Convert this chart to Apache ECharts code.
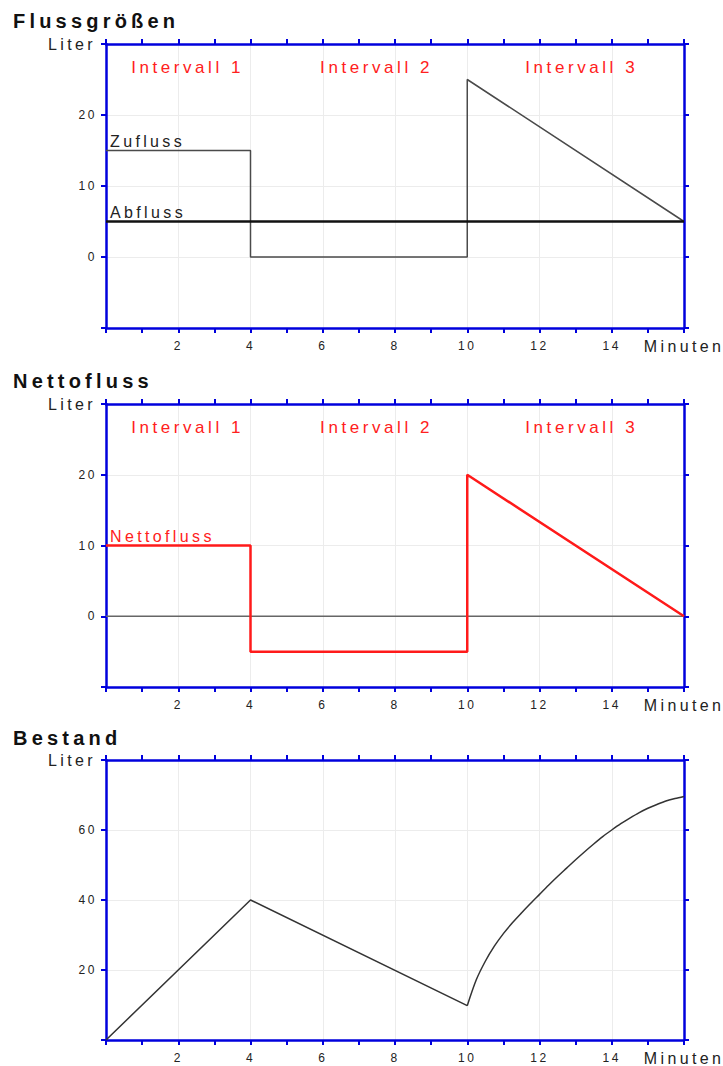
<!DOCTYPE html>
<html><head><meta charset="utf-8">
<script src="https://cdn.jsdelivr.net/npm/echarts@6/dist/echarts.min.js"></script>
<style>
html,body{margin:0;padding:0;background:#fff;}
#c{width:723px;height:1066px;}
#c text{letter-spacing:0.21em;}
</style></head><body><div id="c"></div>
<script>
// ---- data ----
const panelTitles = ['Flussgrößen', 'Nettofluss', 'Bestand'];
const yName = 'Liter';
const xName = 'Minuten';
const intervalNames = ['Intervall 1', 'Intervall 2', 'Intervall 3'];
const intervalMid = [2.26, 7.49, 13.17];
const intervalLevel = 26.7;

const zuflussT = [0, 4, 4, 10, 10, 16];
const zuflussV = [15, 15, 0, 0, 25, 5];
const abflussT = [0, 16];
const abflussV = [5, 5];
const nullT = [0, 16];
const nullV = [0, 0];
const nettoT = [0, 4, 4, 10, 10, 16];
const nettoV = [10, 10, -5, -5, 20, 0];
const bestandLinT = [0, 4, 10];
const bestandLinV = [0, 40, 9.8];
const bestandKurveT = [10, 10.25, 10.5, 10.75, 11, 11.25, 11.5, 11.75, 12, 12.25, 12.5, 12.75, 13, 13.25, 13.5, 13.75, 14, 14.25, 14.5, 14.75, 15, 15.25, 15.5, 15.75, 16];
const bestandKurveV = [9.8, 17.2, 22.5, 26.8, 30.4, 33.5, 36.3, 39.0, 41.6, 44.2, 46.7, 49.1, 51.5, 53.8, 56.0, 58.1, 60.0, 61.8, 63.4, 64.9, 66.2, 67.3, 68.3, 69.0, 69.6];

const xRange = [0, 16, 2];
const yRanges = [[-10, 30, 10], [-10, 30, 10], [0, 80, 20]];

// ---- styling ----
const FONT = '"Liberation Sans", Arial, sans-serif';
const BLUE = '#0000dd';
const GRIDC = '#ececec';
const grids = [
  { left: 106, top: 44, width: 578, height: 284 },
  { left: 106, top: 404, width: 578, height: 283 },
  { left: 106, top: 760, width: 578, height: 282 }
];
const titleTops = [11, 371, 728];

const pairs = (T, V) => T.map((t, k) => [t, V[k]]);

const xAxis = [], yAxis = [];
grids.forEach((g, i) => {
  const axisLine = { show: true, onZero: false, lineStyle: { color: BLUE, width: 2.5 } };
  const tick = { show: true, length: 5, lineStyle: { color: BLUE, width: 2 } };
  const common = {
    type: 'value', gridIndex: i, min: xRange[0], max: xRange[1], interval: xRange[2],
    axisLine, axisTick: tick,
    minorTick: { show: true, splitNumber: 2, length: 5, lineStyle: { color: BLUE, width: 2 } },
    minorSplitLine: { show: false }
  };
  xAxis.push(Object.assign({}, common, {
    position: 'bottom',
    splitLine: { show: true, lineStyle: { color: GRIDC, width: 1 } },
    axisLabel: {
      margin: 12, color: '#222', fontSize: 12, fontFamily: FONT,
      formatter: v => (v === xRange[0] || v === xRange[1]) ? '' : String(v)
    },
    name: xName, nameLocation: 'end', nameGap: 0,
    nameTextStyle: { color: '#222', fontSize: 16, fontFamily: FONT, align: 'center', verticalAlign: 'top', padding: [10, 0, 0, 0] }
  }));
  xAxis.push(Object.assign({}, common, {
    position: 'top', axisLabel: { show: false }, splitLine: { show: false }
  }));
  const [mn, mx, iv] = yRanges[i];
  const ycommon = { type: 'value', gridIndex: i, min: mn, max: mx, interval: iv, axisLine, axisTick: tick };
  yAxis.push(Object.assign({}, ycommon, {
    position: 'left',
    splitLine: { show: true, lineStyle: { color: GRIDC, width: 1 } },
    axisLabel: {
      margin: 9, color: '#222', fontSize: 12, fontFamily: FONT,
      formatter: v => (v === mn || v === mx) ? '' : String(v)
    },
    name: yName, nameLocation: 'end', nameGap: 0,
    nameTextStyle: { color: '#222', fontSize: 16, fontFamily: FONT, align: 'right', verticalAlign: 'middle', padding: [0, 10, 0, 0] }
  }));
  yAxis.push(Object.assign({}, ycommon, {
    position: 'right', axisLabel: { show: false }, splitLine: { show: false }
  }));
});

const seriesLabel = (name, x, y, color) => ({
  name, coord: [x, y],
  label: { show: true, formatter: '{b}', position: 'top', distance: 1, align: 'left', offset: [4, 0], color, fontSize: 16, fontFamily: FONT }
});
const intervalItems = intervalNames.map((n, k) => ({
  name: n, coord: [intervalMid[k], intervalLevel],
  label: { show: true, formatter: '{b}', position: 'inside', color: '#ff2020', fontSize: 17, fontFamily: FONT }
}));
const mp = data => ({ symbol: 'circle', symbolSize: 0, silent: true, animation: false, data });

const series = [
  { type: 'line', name: 'Zufluss', xAxisIndex: 0, yAxisIndex: 0, data: pairs(zuflussT, zuflussV), showSymbol: false,
    lineStyle: { color: '#4a4a4a', width: 1.5 }, z: 3,
    markPoint: mp([seriesLabel('Zufluss', zuflussT[0], zuflussV[0], '#222')].concat(intervalItems)) },
  { type: 'line', name: 'Abfluss', xAxisIndex: 0, yAxisIndex: 0, data: pairs(abflussT, abflussV), showSymbol: false,
    lineStyle: { color: '#111', width: 2.5 }, z: 4,
    markPoint: mp([seriesLabel('Abfluss', abflussT[0], abflussV[0], '#222')]) },
  { type: 'line', name: 'Null', xAxisIndex: 2, yAxisIndex: 2, data: pairs(nullT, nullV), showSymbol: false,
    lineStyle: { color: '#666', width: 1.5 }, z: 3 },
  { type: 'line', name: 'Nettofluss', xAxisIndex: 2, yAxisIndex: 2, data: pairs(nettoT, nettoV), showSymbol: false,
    lineStyle: { color: '#ff1a1a', width: 2.5 }, z: 4,
    markPoint: mp([seriesLabel('Nettofluss', nettoT[0], nettoV[0], '#ff2020')].concat(intervalItems)) },
  { type: 'line', name: 'Bestand', xAxisIndex: 4, yAxisIndex: 4, data: pairs(bestandLinT, bestandLinV), showSymbol: false,
    lineStyle: { color: '#333', width: 1.5 }, z: 3 },
  { type: 'line', name: 'Bestand', xAxisIndex: 4, yAxisIndex: 4, data: pairs(bestandKurveT, bestandKurveV), showSymbol: false,
    smooth: 0.3,
    lineStyle: { color: '#333', width: 1.5 }, z: 3 }
];

const chart = echarts.init(document.getElementById('c'), null, { renderer: 'svg' });
chart.setOption({
  animation: false,
  backgroundColor: '#fff',
  title: panelTitles.map((t, i) => ({
    text: t, left: 13, top: titleTops[i], padding: 0,
    textStyle: { fontSize: 20, fontWeight: 'bold', color: '#111', fontFamily: FONT }
  })),
  grid: grids,
  xAxis, yAxis, series
});
</script></body></html>
